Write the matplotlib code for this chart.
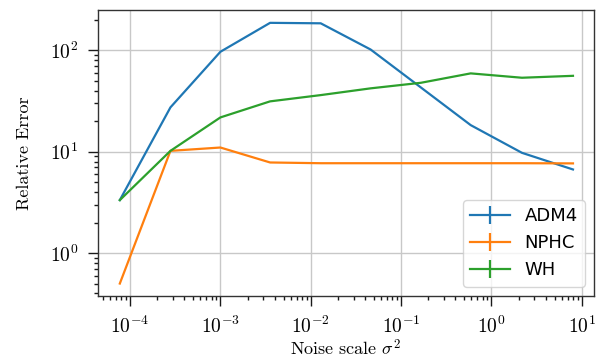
import numpy as np
import matplotlib
matplotlib.use("Agg")
import matplotlib.pyplot as plt

plt.rcParams['font.family'] = 'serif'
plt.rcParams['font.serif'] = ['cmr10']
plt.rcParams['mathtext.fontset'] = 'cm'
plt.rcParams['axes.formatter.use_mathtext'] = True

# noise scale sigma^2
noise = [7.7e-5, 2.8e-4, 1.0e-3, 3.55e-3, 1.29e-2, 4.6e-2, 0.166, 0.59, 2.18, 8.0]

# relative error per method
adm4 = [3.33, 27.4, 96.9, 187, 185, 102, 43, 18.3, 9.75, 6.68]
nphc = [0.50, 10.2, 11.0, 7.83, 7.7, 7.7, 7.7, 7.7, 7.7, 7.67]
wh = [3.33, 10.2, 21.8, 31.4, 36.2, 42.2, 47.9, 59.3, 53.7, 56.1]

fig = plt.figure(figsize=(5.97, 3.59), dpi=100)
ax = fig.add_axes([0.1637, 0.1763, 0.8313, 0.7957])

ax.errorbar(noise, adm4, yerr=np.zeros(len(adm4)), color='#1f77b4', lw=1.6, label='ADM4')
ax.errorbar(noise, nphc, yerr=np.zeros(len(nphc)), color='#ff7f0e', lw=1.6, label='NPHC')
ax.errorbar(noise, wh, yerr=np.zeros(len(wh)), color='#2ca02c', lw=1.6, label='WH')

ax.set_xscale('log')
ax.set_yscale('log')
ax.set_xlim(10**-4.358, 10**1.136)
ax.set_ylim(10**-0.421, 10**2.398)

ax.grid(True, which='major', color='#c8c8c8', lw=1.0)
ax.set_axisbelow(True)
for s in ax.spines.values():
    s.set_color('0.2')
    s.set_linewidth(1.0)
ax.tick_params(which='major', length=7, width=1.0, pad=7, labelsize=14, color='0.1')
ax.tick_params(which='minor', length=3.2, width=1.0, color='0.1')

ax.set_xlabel(r'Noise scale $\sigma^2$', fontsize=13, labelpad=1)
ax.set_ylabel('Relative Error', fontsize=13, labelpad=13)

leg = ax.legend(loc='lower right', prop={'family': 'DejaVu Sans', 'size': 13},
                handlelength=2.2, framealpha=0.8, edgecolor='#cccccc')

fig.savefig('out.png', dpi=100)
